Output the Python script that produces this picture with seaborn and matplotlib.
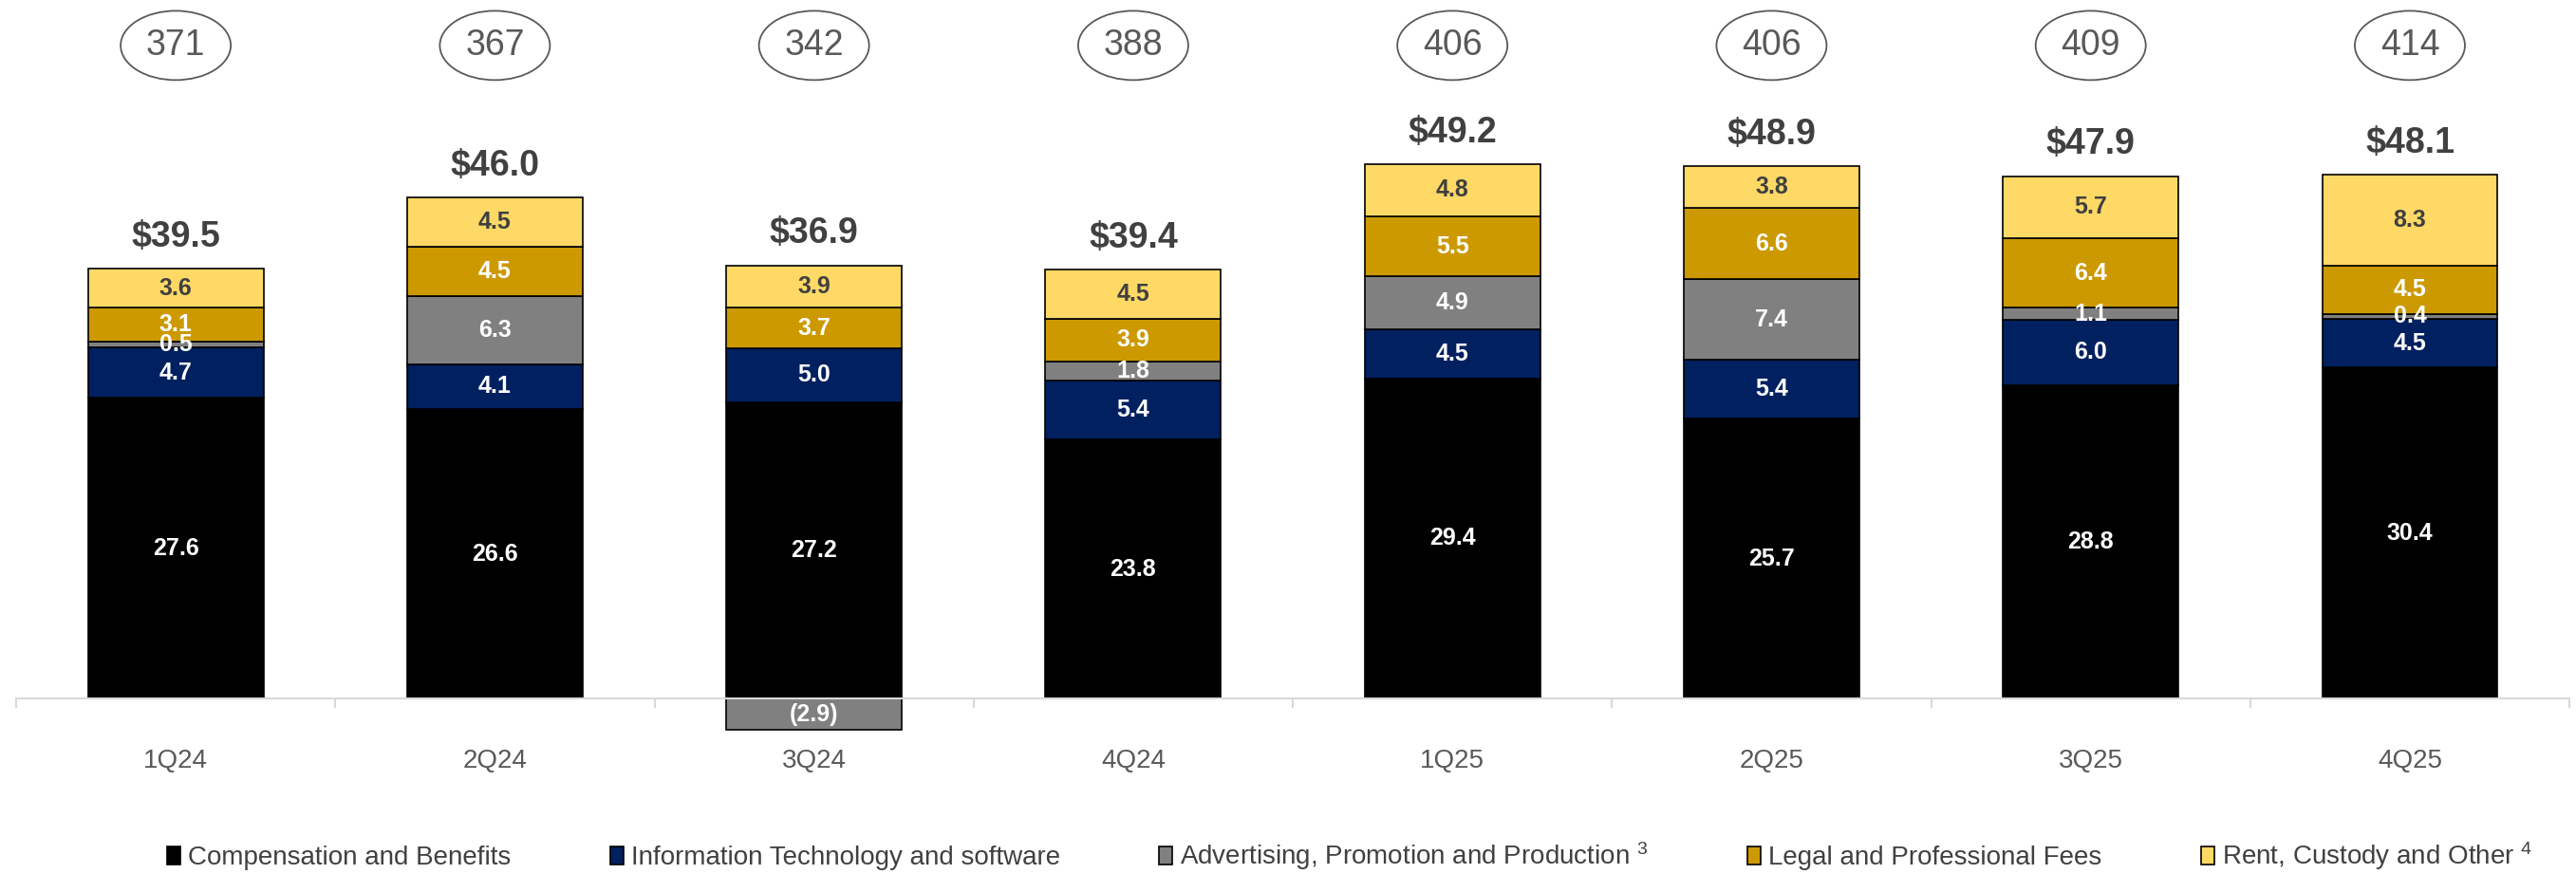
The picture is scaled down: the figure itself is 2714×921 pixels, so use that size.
import numpy as np
import pandas as pd
import matplotlib
matplotlib.use("Agg")
import matplotlib.pyplot as plt
from matplotlib.patches import Ellipse, Patch
import seaborn as sns

# ---- data ($ millions, by quarter) ----
quarters = ["1Q24", "2Q24", "3Q24", "4Q24", "1Q25", "2Q25", "3Q25", "4Q25"]
compensation = [27.6, 26.6, 27.2, 23.8, 29.4, 25.7, 28.8, 30.4]
technology = [4.7, 4.1, 5.0, 5.4, 4.5, 5.4, 6.0, 4.5]
advertising = [0.5, 6.3, -2.9, 1.8, 4.9, 7.4, 1.1, 0.4]
legal = [3.1, 4.5, 3.7, 3.9, 5.5, 6.6, 6.4, 4.5]
rent_other = [3.6, 4.5, 3.9, 4.5, 4.8, 3.8, 5.7, 8.3]
totals = [39.5, 46.0, 36.9, 39.4, 49.2, 48.9, 47.9, 48.1]
headcount = [371, 367, 342, 388, 406, 406, 409, 414]

series_names = [
    "Compensation and Benefits",
    "Information Technology and software",
    "Advertising, Promotion and Production",
    "Legal and Professional Fees",
    "Rent, Custody and Other",
]
series_values = [compensation, technology, advertising, legal, rent_other]
series_colors = ["#000000", "#002060", "#808080", "#CC9900", "#FFD966"]
label_colors = ["white", "white", "white", "white", "#404040"]
legend_suffix = ["", "", " $^{3}$", "", " $^{4}$"]

sns.set_style("white")
plt.rcParams["font.family"] = ["Liberation Sans", "DejaVu Sans"]
plt.rcParams["mathtext.default"] = "regular"

fig = plt.figure(figsize=(27.14, 9.21), dpi=100)
ax = fig.add_axes([0.00626, 0.151, 0.9912, 0.797])

pos_base = np.zeros(len(quarters))
neg_base = np.zeros(len(quarters))
for name, vals, color, lc in zip(series_names, series_values, series_colors, label_colors):
    vals = np.asarray(vals, dtype=float)
    bottoms = np.where(vals >= 0, pos_base, neg_base)
    sns.barplot(
        x=quarters, y=vals, order=quarters, bottom=bottoms, color=color,
        saturation=1, width=0.55, edgecolor="black", linewidth=1.2,
        errorbar=None, ax=ax,
    )
    cont = ax.containers[-1]
    labels = [f"({abs(v):.1f})" if v < 0 else f"{v:.1f}" for v in vals]
    ax.bar_label(cont, labels=labels, label_type="center", color=lc,
                 fontsize=18, fontweight="bold")
    pos_base = pos_base + np.where(vals >= 0, vals, 0)
    neg_base = neg_base + np.where(vals < 0, vals, 0)

# quarter totals above the stacks
ax.bar_label(ax.containers[-1], labels=[f"${t:.1f}" for t in totals],
             padding=11, color="#404040", fontsize=27, fontweight="bold")

# headcount bubbles along the top
for i, hc in enumerate(headcount):
    ax.add_patch(Ellipse((i, 60.0), 0.345, 6.36, facecolor="white",
                         edgecolor="#595959", linewidth=1.3, clip_on=False))
    ax.text(i, 60.0, str(hc), ha="center", va="center", fontsize=27,
            color="#595959")

ax.set_xlim(-0.5, 7.5)
ax.set_ylim(-4, 60)
for side in ["top", "left", "right"]:
    ax.spines[side].set_visible(False)
ax.spines["bottom"].set_position(("data", 0))
ax.spines["bottom"].set_color("#d9d9d9")
ax.spines["bottom"].set_linewidth(1.5)
ax.set_yticks([])
ax.set_xlabel("")
ax.set_ylabel("")
ax.set_xticks(range(len(quarters)))
ax.set_xticklabels(quarters)
ax.set_xticks(np.arange(-0.5, len(quarters), 1.0), minor=True)
ax.tick_params(axis="x", which="major", length=0, pad=38, labelsize=20,
               labelcolor="#595959")
ax.tick_params(axis="x", which="minor", length=7, width=1.5, color="#d9d9d9",
               direction="out", bottom=True)

handles = [Patch(facecolor=c, edgecolor="black", linewidth=1.2) for c in series_colors]
fig.legend(handles, [n + s for n, s in zip(series_names, legend_suffix)],
           loc="center", bbox_to_anchor=(0.524, 0.02), ncol=5, frameon=False,
           fontsize=20, labelcolor="#404040", handlelength=0.5,
           handleheight=0.7, handletextpad=0.3, columnspacing=3.75)

fig.savefig("out.png", dpi=100)
